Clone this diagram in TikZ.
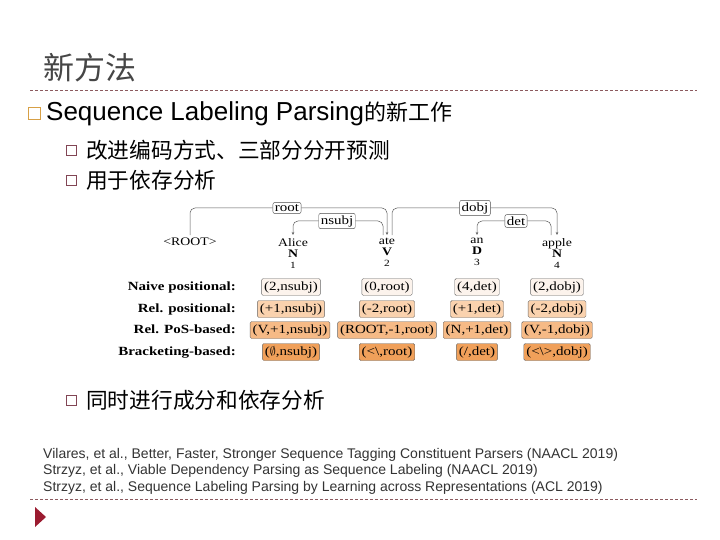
\documentclass[tikz,border=0pt]{standalone}
\usepackage{fontspec}
\setmainfont{Liberation Sans}
\newfontfamily\cjk{Noto Sans CJK SC}
\newfontfamily\widesans{Liberation Sans}[WordSpace=1.6]
\newfontfamily\figfont{Liberation Serif}[FakeStretch=1.2]
\newfontfamily\reffont{Liberation Sans}
\usepackage{tikz}
\usetikzlibrary{arrows.meta,positioning,calc}
\definecolor{sepcol}{RGB}{140,90,95}
\definecolor{titlegray}{RGB}{70,70,70}
\definecolor{bulletorange}{RGB}{215,160,70}
\definecolor{bulletred}{RGB}{130,70,85}
\definecolor{slidered}{RGB}{155,27,48}
\definecolor{encA}{RGB}{252,243,236}
\definecolor{encB}{RGB}{250,210,174}
\definecolor{encC}{RGB}{246,186,134}
\definecolor{encD}{RGB}{240,160,90}

\begin{document}
\begin{tikzpicture}[x=1pt,y=-1pt,
  sepline/.style={draw=sepcol, dash pattern=on 3pt off 2pt, line width=0.7pt},
  mainbullet/.style={draw=bulletorange, line width=0.8pt, minimum size=12pt, inner sep=0pt},
  subbullet/.style={draw=bulletred, line width=0.6pt, minimum size=10pt, inner sep=0pt},
  maintext/.style={anchor=west, inner sep=0pt, font=\widesans\fontsize{26}{28}\selectfont},
  subtext/.style={anchor=west, inner sep=0pt, font=\cjk\fontsize{21.7}{25}\selectfont},
  word/.style={anchor=north, align=center, inner sep=0pt, font=\figfont\fontsize{11.5}{11}\selectfont},
  arclabel/.style={draw=black!70, rounded corners=2pt, fill=white, inner sep=2pt, font=\figfont\fontsize{12.5}{12.5}\selectfont},
  arcline/.style={draw=black!65, line width=0.5pt, rounded corners=5pt},
  arr/.style={arcline, -{Stealth[length=3pt, width=2.5pt]}},
  rowname/.style={anchor=east, inner sep=0pt, text height=8.5pt, text depth=2.5pt, font=\figfont\bfseries\fontsize{12.5}{12.5}\selectfont},
  enc/.style={draw=black!60, rounded corners=1.5pt, inner sep=2.5pt, text height=9pt, text depth=3pt, font=\figfont\fontsize{12.5}{12.5}\selectfont}
]
\useasboundingbox (0,0) rectangle (720,540);

\node[anchor=west, inner sep=0pt, text=titlegray, font=\cjk\fontsize{31}{35}\selectfont] (title) at (43,68) {新方法};
\draw[sepline] (30,90) -- (697,90);

\node[mainbullet] (b1) at (34,113) {};
\node[maintext] (t1) at (46,114) {Sequence Labeling Parsing{\cjk\fontsize{22}{25}\selectfont 的新工作}};
\node[subbullet] (b2) at (71,150) {};
\node[subtext] (t2) at (86,150) {改进编码方式、三部分分开预测};
\node[subbullet] (b3) at (71,180) {};
\node[subtext] (t3) at (86,180) {用于依存分析};

\node[word] (w0) at (190,238) {<ROOT>};
\node[word] (w1) at (293,238) {Alice\\\textbf{N}\\{\fontsize{9.5}{9.5}\selectfont 1}};
\node[word] (w2) at (387,238) {ate\\\textbf{V}\\{\fontsize{9.5}{9.5}\selectfont 2}};
\node[word] (w3) at (477,238) {an\\\textbf{D}\\{\fontsize{9.5}{9.5}\selectfont 3}};
\node[word] (w4) at (557,238) {apple\\\textbf{N}\\{\fontsize{9.5}{9.5}\selectfont 4}};

\node[arclabel] (lroot) at (287,208) {root};
\node[arclabel] (lnsubj) at (337,221) {nsubj};
\node[arclabel] (ldobj) at (475,208) {dobj};
\node[arclabel] (ldet) at (516,221) {det};

\draw[arcline] ([yshift=3pt]w0.north) |- (lroot.west);
\draw[arr] (lroot.east) -| ([yshift=3pt]w2.north);
\draw[arcline] ([xshift=-4pt,yshift=3pt]w2.north) |- (lnsubj.east);
\draw[arr] (lnsubj.west) -| ([yshift=3pt]w1.north);
\draw[arcline] ([xshift=5pt,yshift=3pt]w2.north) |- (ldobj.west);
\draw[arr] (ldobj.east) -| ([yshift=3pt]w4.north);
\draw[arcline] ([xshift=-6pt,yshift=3pt]w4.north) |- (ldet.east);
\draw[arr] (ldet.west) -| ([yshift=3pt]w3.north);

\node[rowname] (naive) at (236,287) {Naive positional:};
\node[rowname] (relpos) at (236,309) {Rel. positional:};
\node[rowname] (relpos2) at (236,330) {Rel. PoS-based:};
\node[rowname] (brack) at (236,352) {Bracketing-based:};

\node[enc, fill=encA] (n1) at (291,287) {(2,nsubj)};
\node[enc, fill=encA] (n2) at (387,287) {(0,root)};
\node[enc, fill=encA] (n3) at (477,287) {(4,det)};
\node[enc, fill=encA] (n4) at (557,287) {(2,dobj)};
\node[enc, fill=encB] (r1) at (291,309) {(+1,nsubj)};
\node[enc, fill=encB] (r2) at (387,309) {(-2,root)};
\node[enc, fill=encB] (r3) at (477,309) {(+1,det)};
\node[enc, fill=encB] (r4) at (557,309) {(-2,dobj)};
\node[enc, fill=encC] (p1) at (290,330) {(V,+1,nsubj)};
\node[enc, fill=encC] (p2) at (387,330) {(ROOT,-1,root)};
\node[enc, fill=encC] (p3) at (477,330) {(N,+1,det)};
\node[enc, fill=encC] (p4) at (557,330) {(V,-1,dobj)};
\node[enc, fill=encD] (k1) at (291,352) {($\emptyset$,nsubj)};
\node[enc, fill=encD] (k2) at (387,352) {(<\textbackslash,root)};
\node[enc, fill=encD] (k3) at (477,352) {(/,det)};
\node[enc, fill=encD] (k4) at (557,352) {(<\textbackslash>,dobj)};

\node[subbullet] (b4) at (71,400) {};
\node[subtext] (t4) at (86,400) {同时进行成分和依存分析};

\node[anchor=north west, align=left, inner sep=0pt, text=black!80, font=\reffont\fontsize{14}{16.5}\selectfont] (refs) at (43,448) {Vilares, et al., Better, Faster, Stronger Sequence Tagging Constituent Parsers (NAACL 2019)\\
Strzyz, et al., Viable Dependency Parsing as Sequence Labeling (NAACL 2019)\\
Strzyz, et al., Sequence Labeling Parsing by Learning across Representations (ACL 2019)};

\draw[sepline] (30,499) -- (697,499);
\fill[slidered] (35,507) -- (46,517) -- (35,527) -- cycle;
\end{tikzpicture}
\end{document}
